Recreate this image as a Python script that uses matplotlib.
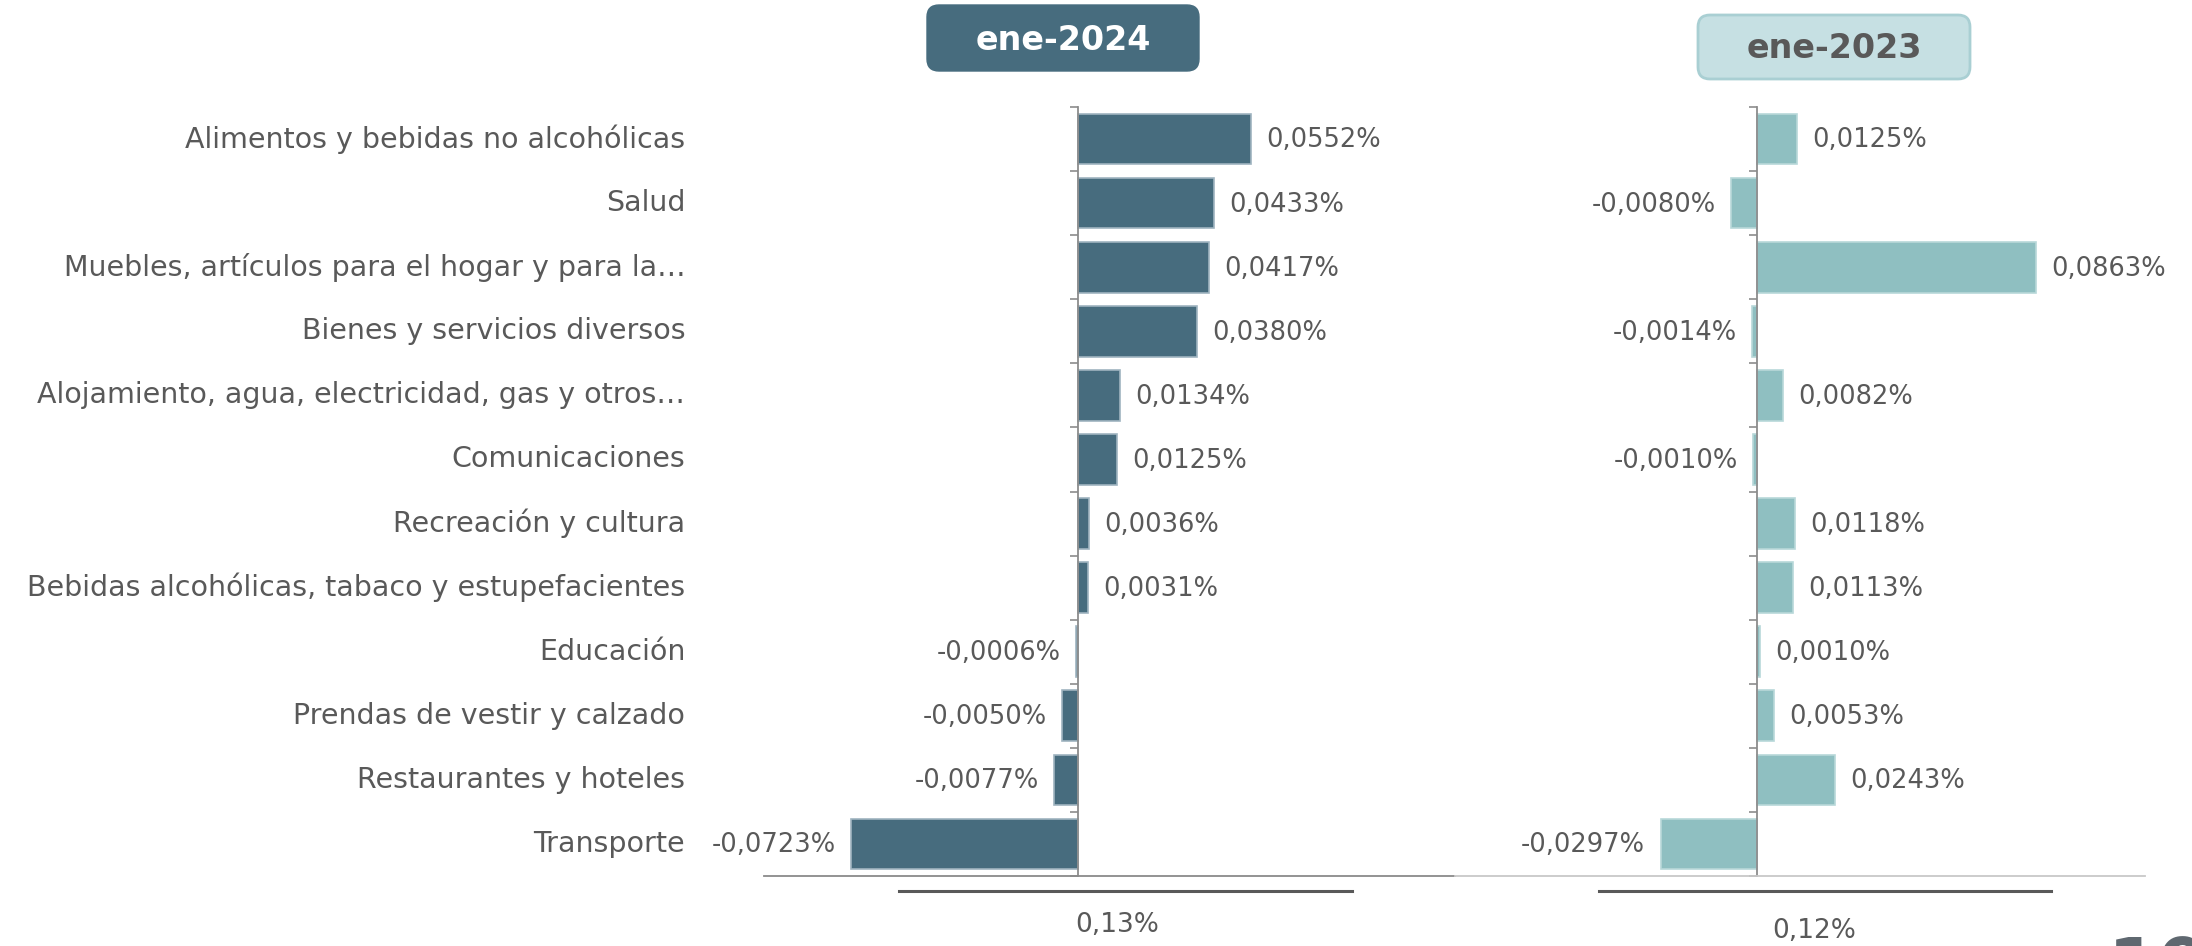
import matplotlib.pyplot as plt
import numpy as np
from matplotlib.patches import FancyBboxPatch
from matplotlib.lines import Line2D
from matplotlib.transforms import IdentityTransform, blended_transform_factory

plt.rcParams['font.family'] = ['DejaVu Sans']

# data
categorias = [
    "Alimentos y bebidas no alcohólicas",
    "Salud",
    "Muebles, artículos para el hogar y para la…",
    "Bienes y servicios diversos",
    "Alojamiento, agua, electricidad, gas y otros…",
    "Comunicaciones",
    "Recreación y cultura",
    "Bebidas alcohólicas, tabaco y estupefacientes",
    "Educación",
    "Prendas de vestir y calzado",
    "Restaurantes y hoteles",
    "Transporte",
]
ene_2024 = [0.0552, 0.0433, 0.0417, 0.0380, 0.0134, 0.0125,
            0.0036, 0.0031, -0.0006, -0.0050, -0.0077, -0.0723]
ene_2023 = [0.0125, -0.0080, 0.0863, -0.0014, 0.0082, -0.0010,
            0.0118, 0.0113, 0.0010, 0.0053, 0.0243, -0.0297]
total_2024 = "0,13%"
total_2023 = "0,12%"

W, H = 2192, 946
GRIS = "#595959"
AZUL = "#476C7E"
TEAL = "#8FBFC1"


def fx(px):
    return px / W


def fy(py):
    return 1 - py / H


fig = plt.figure(figsize=(W / 100, H / 100), dpi=100)

ax1 = fig.add_axes([fx(764), fy(876), fx(1455) - fx(764), fy(107) - fy(876)])
ax2 = fig.add_axes([fx(1455), fy(876), fx(2145) - fx(1455), fy(107) - fy(876)])

y = np.arange(len(categorias))


def panel(ax, vals, color, edge, xlim, spine_col):
    ax.barh(y, vals, height=0.79, color=color, edgecolor=edge, linewidth=1.2)
    ax.set_xlim(*xlim)
    ax.set_ylim(len(categorias) - 0.5, -0.5)
    for s in ["top", "right"]:
        ax.spines[s].set_visible(False)
    ax.spines["left"].set_position(("data", 0))
    ax.spines["left"].set_color("#8C8C8C")
    ax.spines["left"].set_linewidth(1.3)
    ax.spines["bottom"].set_color(spine_col)
    ax.spines["bottom"].set_linewidth(1.3)
    ax.set_xticks([])
    ax.set_yticks(np.arange(-0.5, len(categorias), 1))
    ax.tick_params(axis="y", length=6, width=1.2, color="#8C8C8C", labelleft=False)
    for i, v in enumerate(vals):
        txt = f"{v:.4f}%".replace(".", ",")
        if v >= 0:
            ax.annotate(txt, (v, i), xytext=(11, -1), textcoords="offset points",
                        ha="left", va="center", fontsize=18.5, color=GRIS)
        else:
            ax.annotate(txt, (v, i), xytext=(-11, -1), textcoords="offset points",
                        ha="right", va="center", fontsize=18.5, color=GRIS)


panel(ax1, ene_2024, AZUL, "#9FB4C0", (-0.1, 0.12), "#8A8A8A")
panel(ax2, ene_2023, TEAL, "#B8D8D9", (-0.0932, 0.12), "#C8C8C8")

# category labels
tr = blended_transform_factory(ax1.transAxes, ax1.transData)
for i, c in enumerate(categorias):
    ax1.text(-0.114, i, c, transform=tr, ha="right", va="center",
             fontsize=20.5, color=GRIS)

# header boxes
box1 = FancyBboxPatch((927, H - 71), 272, 66, boxstyle="round,pad=0,rounding_size=12",
                      facecolor=AZUL, edgecolor=AZUL, transform=IdentityTransform())
box2 = FancyBboxPatch((1698, H - 79), 272, 64, boxstyle="round,pad=0,rounding_size=12",
                      facecolor="#C6E0E3", edgecolor="#A9CFD3", linewidth=2,
                      transform=IdentityTransform())
fig.add_artist(box1)
fig.add_artist(box2)
fig.text(fx(1063), fy(40), "ene-2024", ha="center", va="center", fontsize=24,
         fontweight="bold", color="white")
fig.text(fx(1834), fy(49), "ene-2023", ha="center", va="center", fontsize=24,
         fontweight="bold", color=GRIS)

# totals
fig.add_artist(Line2D([fx(899), fx(1352)], [fy(891), fy(891)], color=GRIS, linewidth=2.2))
fig.add_artist(Line2D([fx(1599), fx(2051)], [fy(891), fy(891)], color=GRIS, linewidth=2.2))
fig.text(fx(1117), fy(925), total_2024, ha="center", va="center", fontsize=19, color=GRIS)
fig.text(fx(1814), fy(931), total_2023, ha="center", va="center", fontsize=19, color=GRIS)

# page number, cut off at the bottom edge
fig.text(fx(2108), fy(946 + 43), "10", ha="left", va="baseline", fontsize=52,
         fontweight="bold", color="#5F6870")

fig.savefig("out.png", dpi=100)
